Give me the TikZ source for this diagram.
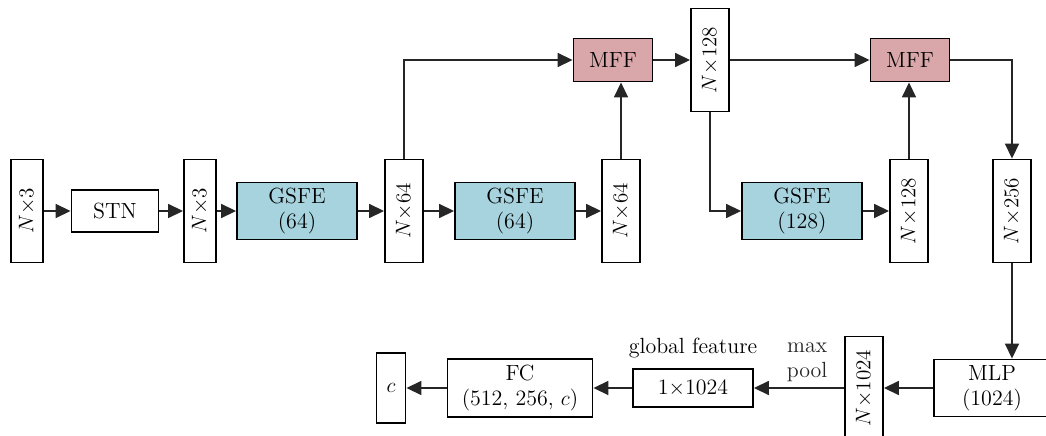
\documentclass[tikz,border=0pt]{standalone}
\usepackage{amssymb, amsmath}
\usepackage[dvipsnames]{xcolor}
\usepackage{tikz}
\usetikzlibrary{positioning}
\usetikzlibrary{arrows.meta}

\definecolor{gsfeblue}{RGB}{166,211,222}
\definecolor{mffpink}{RGB}{217,167,170}

\tikzset{
	blk/.style={draw, line width=1.1pt, inner sep=1pt, align=center,
		font=\fontsize{12.5}{14}\selectfont},
	feat/.style={blk, minimum width=0.76cm, minimum height=2.06cm,
		font=\fontsize{11.5}{14}\selectfont},
	gsfe/.style={blk, fill=gsfeblue, minimum width=2.4cm, minimum height=1.14cm},
	mff/.style={blk, fill=mffpink, minimum width=1.58cm, minimum height=0.86cm},
	flow/.style={-{Triangle[length=8.5pt,width=8pt]}, line width=0.7pt, black!85}
}

\begin{document}
\begin{tikzpicture}[x=0.02cm, y=-0.02cm]
			\useasboundingbox (0,0) rectangle (1046,436);
			
			% input + STN
			\node [feat, minimum width=0.64cm] (in) at (27,211) {\rotatebox{90}{$N{\times}3$}};
			\node [blk,
				minimum width=1.74cm,
				minimum height=0.84cm
				] (stn) at (115,211) {STN};
			\node [feat, minimum width=0.64cm] (tin) at (200,211) {\rotatebox{90}{$N{\times}3$}};
			
			% first two GSFE blocks
			\node [gsfe] (g1) at (297,211) {GSFE\\(64)};
			\node [feat] (f1) at (404,211) {\rotatebox{90}{$N{\times}64$}};
			\node [gsfe] (g2) at (515,211) {GSFE\\(64)};
			\node [feat] (f2) at (621,211) {\rotatebox{90}{$N{\times}64$}};
			\node [mff] (m1) at (613,60) {MFF};
			\node [feat] (f3) at (710,60) {\rotatebox{90}{$N{\times}128$}};
			
			% third GSFE block
			\node [gsfe] (g3) at (802,211) {GSFE\\(128)};
			\node [feat] (f4) at (909,211) {\rotatebox{90}{$N{\times}128$}};
			\node [mff] (m2) at (910,60) {MFF};
			\node [feat] (f5) at (1012,211) {\rotatebox{90}{$N{\times}256$}};
			
			% MLP, pooling and classifier
			\node [blk,
				minimum width=2.32cm,
				minimum height=1.14cm
				] (mlp) at (992,388) {MLP\\(1024)};
			\node [feat] (f6) at (864,388) {\rotatebox{90}{$N{\times}1024$}};
			\node [blk,
				minimum width=2.4cm,
				minimum height=0.76cm
				] (gf) at (693,388) {1${\times}$1024};
			\node [above=0.08cm of gf, font=\fontsize{12.5}{14}\selectfont] (gflab) {global feature};
			\node [blk,
				minimum width=2.9cm,
				minimum height=1.16cm
				] (fc) at (520,388) {FC\\(512, 256, $c$)};
			\node [blk,
				minimum width=0.58cm,
				minimum height=1.4cm
				] (out) at (391,388) {$c$};
			
			% Arrows
			\draw[flow] (in.east) -- (stn.west);
			\draw[flow] (stn.east) -- (tin.west);
			\draw[flow] (tin.east) -- (g1.west);
			\draw[flow] (g1.east) -- (f1.west);
			\draw[flow] (f1.east) -- (g2.west);
			\draw[flow] (g2.east) -- (f2.west);
			\draw[flow] (f1.north) |- (m1.west);
			\draw[flow] (f2.north) -- (f2.north |- m1.south);
			\draw[flow] (m1.east) -- (f3.west);
			\draw[flow] (f3.south) |- (g3.west);
			\draw[flow] (g3.east) -- (f4.west);
			\draw[flow] (f3.east) -- (m2.west);
			\draw[flow] (f4.north) -- (f4.north |- m2.south);
			\draw[flow] (m2.east) -| (f5.north);
			\draw[flow] (f5.south) -- (f5.south |- mlp.north);
			\draw[flow] (mlp.west) -- (f6.east);
			\draw[flow] (f6.west) -- (gf.east)
				node[pos=0.41, above, align=center, font=\fontsize{12.5}{14}\selectfont]{max\\pool};
			\draw[flow] (gf.west) -- (fc.east);
			\draw[flow] (fc.west) -- (out.east);
		
		\end{tikzpicture}
\end{document}
